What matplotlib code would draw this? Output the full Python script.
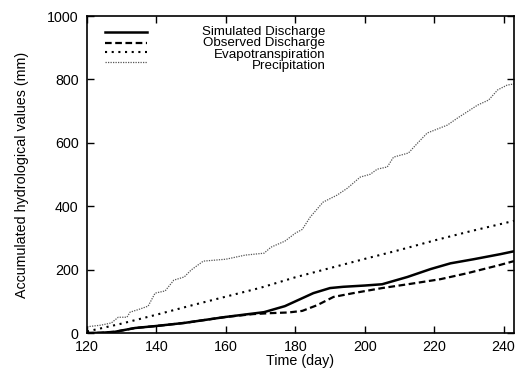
import matplotlib
matplotlib.use("Agg")
import matplotlib.pyplot as plt

plt.rcParams['font.family'] = ['Liberation Sans', 'DejaVu Sans']

# Simulated discharge
sim_days = [120, 124, 128, 133.8, 139.6, 148, 160, 171, 177, 182, 185.2, 190, 193.8, 200, 205, 212.3, 219, 224.7, 231.4, 239.1, 243]
sim_vals = [0, 1, 4, 16, 22, 32, 51, 66, 85, 110, 126, 142, 146, 150, 154, 177, 202, 220, 233, 249, 258]

# Observed discharge
obs_days = [120, 124, 128, 133.8, 139.6, 148, 160, 168, 173, 178, 182, 186.3, 191, 196.7, 205, 213, 221.8, 229.6, 239, 243]
obs_vals = [0, 1, 4, 16, 22, 32, 51, 60, 63, 65, 70, 88, 114, 126, 142, 155, 170, 189, 215, 227]

# Evapotranspiration
et_days = [120, 130, 140, 150, 160, 170, 180, 190, 200, 210, 220, 230, 243]
et_vals = [5, 30, 58, 87, 115, 143, 176, 205, 234, 262, 292, 320, 354]

# Precipitation
pr_days = [120, 124, 127, 129, 131.5, 132.4, 135, 137.6, 139.6, 142.5, 145, 148, 150, 153.5, 160, 165.6,
           171, 173, 177, 180, 182, 184.3, 188, 192, 195, 198.7, 201.6, 203.6, 206.5, 208.3, 212.6,
           215.2, 218, 223.8, 226.7, 232.5, 235.7, 238.3, 241, 243]
pr_vals = [20, 25, 32, 50, 50, 66, 75, 85, 126, 133, 167, 177, 199, 227, 233, 246,
           252, 271, 290, 315, 327, 366, 413, 435, 457, 492, 501, 517, 524, 555, 568,
           599, 631, 656, 678, 719, 735, 767, 782, 786]

legend_labels = ["Simulated Discharge", "Observed Discharge", "Evapotranspiration", "Precipitation"]

FS = 10.3
LFS = 9.6

fig = plt.figure(figsize=(5.15, 3.73), dpi=100)
ax = fig.add_axes([0.169, 0.107, 0.829, 0.850])

styles = [
    dict(color='black', lw=1.8, ls='-'),
    dict(color='black', lw=1.6, ls=(0, (3, 1.6))),
    dict(color='black', lw=1.5, ls=(0, (1, 2.2))),
    dict(color='#555555', lw=0.9, ls=(0, (1, 1))),
]

ax.plot(sim_days, sim_vals, **styles[0])
ax.plot(obs_days, obs_vals, **styles[1])
ax.plot(et_days, et_vals, **styles[2])
ax.plot(pr_days, pr_vals, **styles[3])

ax.set_xlim(120, 243)
ax.set_ylim(0, 1000)
ax.set_xticks([120, 140, 160, 180, 200, 220, 240])
ax.set_yticks([0, 200, 400, 600, 800, 1000])
ax.tick_params(direction='in', top=True, right=True, length=5, width=1, labelsize=FS)
ax.tick_params(axis='x', pad=5)
ax.tick_params(axis='y', pad=6)
for s in ax.spines.values():
    s.set_linewidth(1.2)

ax.set_xlabel("Time (day)", fontsize=FS, labelpad=0)
ax.set_ylabel("Accumulated hydrological values (mm)", fontsize=FS, labelpad=13)

# Manual legend (line samples left, text right-aligned)
x0, x1, xt = 0.042, 0.141, 0.558
line_ys = [0.950, 0.916, 0.886, 0.856]
text_ys = [0.950, 0.914, 0.878, 0.842]
for st, lab, yl, yt in zip(styles, legend_labels, line_ys, text_ys):
    ax.plot([x0, x1], [yl, yl], transform=ax.transAxes, **st)
    ax.text(xt, yt, lab, transform=ax.transAxes, ha='right', va='center', fontsize=LFS)

fig.savefig("out.png", dpi=100)
